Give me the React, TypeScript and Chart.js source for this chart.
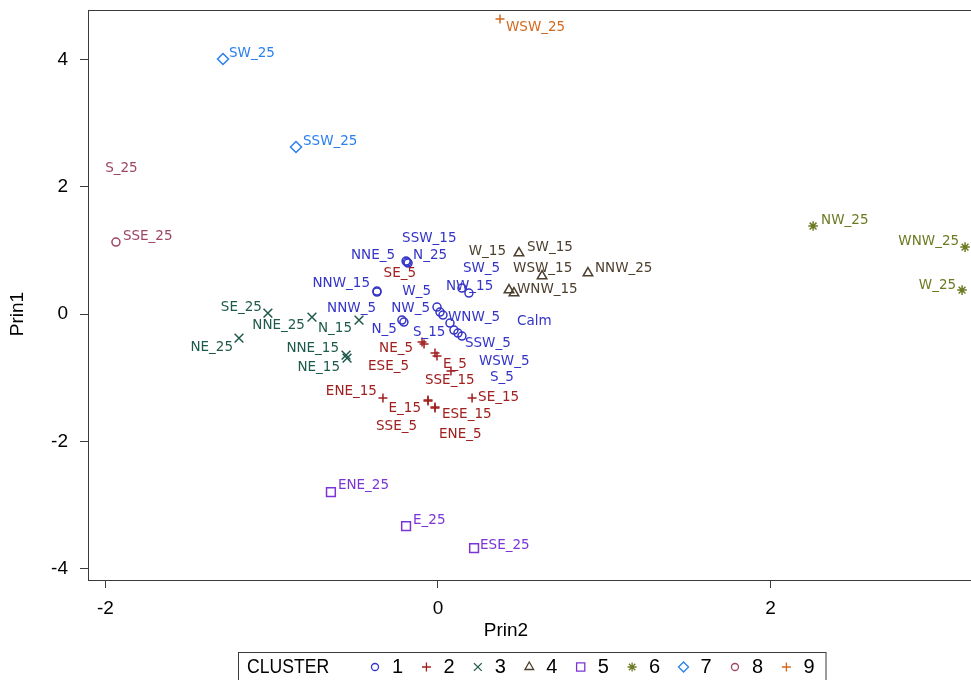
import React, { useEffect, useRef } from 'react';
import { Chart, registerables } from 'chart.js';
import { drawPoint } from 'chart.js/helpers';

Chart.register(...registerables);

// ---------- data ----------
const clusterIds = ['1', '2', '3', '4', '5', '6', '7', '8', '9'];

const c1Names = ['SSW_15', 'NNE_5', 'N_25', 'NNW_15', 'NNW_5', 'N_5', 'S_15', 'NW_5', 'W_5', 'WNW_5', 'Calm', 'SSW_5', 'WSW_5', 'S_5', 'SW_5', 'NW_15'];
const c1Prin2 = [-0.186, -0.192, -0.18, -0.367, -0.367, -0.217, -0.205, -0.006, 0.012, 0.03, 0.072, 0.096, 0.12, 0.144, 0.144, 0.186];
const c1Prin1 = [0.818, 0.833, 0.802, 0.362, 0.346, -0.094, -0.126, 0.11, 0.031, -0.016, -0.142, -0.252, -0.299, -0.346, 0.409, 0.33];

const c2Names = ['NE_5', 'SE_5', 'ESE_5', 'E_5', 'SSE_15', 'ENE_15', 'E_15', 'SSE_5', 'ESE_15', 'ENE_5', 'SE_15'];
const c2Prin2 = [-0.096, -0.084, -0.018, -0.006, 0.078, -0.331, -0.06, -0.06, -0.018, -0.018, 0.205];
const c2Prin1 = [-0.44, -0.472, -0.613, -0.66, -0.896, -1.321, -1.352, -1.368, -1.462, -1.478, -1.321];

const c3Names = ['SE_25', 'NNE_25', 'N_15', 'NE_25', 'NNE_15', 'NE_15'];
const c3Prin2 = [-1.023, -0.758, -0.475, -1.197, -0.553, -0.547];
const c3Prin1 = [0.016, -0.047, -0.094, -0.377, -0.645, -0.692];

const c4Names = ['SW_15', 'WSW_15', 'NNW_25', 'W_15', 'WNW_15'];
const c4Prin2 = [0.487, 0.626, 0.902, 0.427, 0.457];
const c4Prin1 = [0.959, 0.597, 0.645, 0.377, 0.33];

const c5Names = ['ENE_25', 'E_25', 'ESE_25'];
const c5Prin2 = [-0.644, -0.192, 0.217];
const c5Prin1 = [-2.799, -3.333, -3.679];

const c6Names = ['NW_25', 'WNW_25', 'W_25'];
const c6Prin2 = [2.256, 3.17, 3.152];
const c6Prin1 = [1.384, 1.053, 0.377];

const c7Names = ['SW_25', 'SSW_25'];
const c7Prin2 = [-1.293, -0.854];
const c7Prin1 = [4.009, 2.626];

const c8Names = ['S_25', 'SSE_25'];
const c8Prin2 = [-2.2, -1.937];
const c8Prin1 = [2.2, 1.132];

const c9Names = ['WSW_25'];
const c9Prin2 = [0.373];
const c9Prin1 = [4.638];

const xTicks = [-2, 0, 2];
const yTicks = [-4, -2, 0, 2, 4];

// ---------- styles ----------
const clusterColors = ['#3434c8', '#a01f1f', '#1e5a4b', '#4d3f2e', '#7b35d6', '#6b7b22', '#2a80f0', '#9c4566', '#d4691c'];
const clusterShapes = ['circle', 'cross', 'crossRot', 'triangle', 'rect', 'star', 'rectRot', 'circle', 'cross'];
const clusterRadius = [4, 4.5, 6.2, 5.5, 6.2, 4.8, 5.5, 4, 4.5];
const legendRadius = [3.5, 4.5, 5.5, 5, 5.8, 4.5, 5, 3.5, 4.5];

// label placement: [align, dx, dy] relative to the marker
const labelPlacement: Record<string, [string, number, number]> = {
  SSW_15: ['l', -5, -24], NNE_5: ['r', -11, -6], N_25: ['l', 5, -8], NNW_15: ['r', -7, -8],
  NNW_5: ['r', -1, 16], N_5: ['r', -5, 9], S_15: ['l', 9, 10], NW_5: ['r', -7, 1],
  W_5: ['r', -9, -21], WNW_5: ['l', 5, 2], Calm: ['l', 67, -2], SSW_5: ['l', 11, 13],
  WSW_5: ['l', 21, 28], S_5: ['l', 28, 41], SW_5: ['l', 1, -20], NW_15: ['l', -23, -7],
  NE_5: ['r', -9, 6], SE_5: ['r', -8, -71], ESE_5: ['r', -26, 13], E_5: ['l', 6, 8],
  SSE_15: ['l', -26, 9], ENE_15: ['r', -6, -7], E_15: ['r', -7, 8], SSE_5: ['r', -11, 25],
  ESE_15: ['l', 7, 7], ENE_5: ['l', 4, 26], SE_15: ['l', 6, -1],
  SE_25: ['r', -6, -6], NNE_25: ['r', -7, 8], N_15: ['r', -7, 8], NE_25: ['r', -6, 9],
  NNE_15: ['r', -7, -7], NE_15: ['r', -7, 9],
  SW_15: ['l', 8, -6], WSW_15: ['l', -29, -8], NNW_25: ['l', 7, -5], W_15: ['r', -3, -39], WNW_15: ['l', 3, -4],
  ENE_25: ['l', 7, -7], E_25: ['l', 7, -6], ESE_25: ['l', 6, -3],
  NW_25: ['l', 8, -6], WNW_25: ['r', -6, -6], W_25: ['r', -6, -5],
  SW_25: ['l', 6, -6], SSW_25: ['l', 7, -6],
  S_25: ['l', 33, -6], SSE_25: ['l', 7, -6],
  WSW_25: ['l', 6, 8],
};

const allNames = [c1Names, c2Names, c3Names, c4Names, c5Names, c6Names, c7Names, c8Names, c9Names];
const allPrin2 = [c1Prin2, c2Prin2, c3Prin2, c4Prin2, c5Prin2, c6Prin2, c7Prin2, c8Prin2, c9Prin2];
const allPrin1 = [c1Prin1, c2Prin1, c3Prin1, c4Prin1, c5Prin1, c6Prin1, c7Prin1, c8Prin1, c9Prin1];

const AXIS_FONT = "'Liberation Sans', sans-serif";
const LABEL_FONT = "13.5px 'DejaVu Sans', sans-serif";
const FRAME = '#3a3a3a';

const framePlugin = {
  id: 'frame',
  afterDraw(chart: any) {
    const { ctx, chartArea: a } = chart;
    ctx.save();
    ctx.strokeStyle = FRAME;
    ctx.lineWidth = 1;
    ctx.strokeRect(Math.round(a.left) + 0.5, Math.round(a.top) + 0.5, Math.round(a.right - a.left), Math.round(a.bottom - a.top));
    // axis titles
    ctx.fillStyle = '#000';
    ctx.font = `19px ${AXIS_FONT}`;
    ctx.textAlign = 'center';
    ctx.textBaseline = 'middle';
    ctx.fillText('Prin2', a.left + 418, a.bottom + 51);
    ctx.translate(18, a.top + 304);
    ctx.rotate(-Math.PI / 2);
    ctx.fillText('Prin1', 0, 0);
    ctx.restore();
  },
};

const pointLabelPlugin = {
  id: 'pointLabels',
  afterDatasetsDraw(chart: any) {
    const { ctx } = chart;
    ctx.save();
    ctx.font = LABEL_FONT;
    ctx.textBaseline = 'middle';
    chart.data.datasets.forEach((ds: any, di: number) => {
      const meta = chart.getDatasetMeta(di);
      ctx.fillStyle = ds.borderColor;
      meta.data.forEach((el: any, i: number) => {
        const name = ds.data[i].name;
        const [al, dx, dy] = labelPlacement[name] || ['l', 7, -6];
        ctx.textAlign = al === 'r' ? 'right' : 'left';
        ctx.fillText(name, el.x + dx, el.y + dy);
      });
    });
    ctx.restore();
  },
};

const legendPlugin = {
  id: 'clusterLegend',
  afterDraw(chart: any) {
    const { ctx, chartArea: a } = chart;
    const left = 238;
    const top = a.bottom + 72;
    const cy = top + 15;
    ctx.save();
    ctx.font = `20px ${AXIS_FONT}`;
    ctx.textBaseline = 'middle';
    ctx.textAlign = 'left';
    ctx.fillStyle = '#000';
    // slightly condensed rendering of the legend text
    ctx.save();
    ctx.translate(left + 9, cy);
    ctx.scale(0.88, 1.05);
    ctx.fillText('CLUSTER', 0, 0);
    ctx.restore();
    let x = left + 137;
    chart.data.datasets.forEach((ds: any, di: number) => {
      ctx.strokeStyle = ds.borderColor;
      ctx.fillStyle = 'rgba(0,0,0,0)';
      ctx.lineWidth = 1.3;
      drawPoint(ctx, { pointStyle: ds.pointStyle, radius: legendRadius[di], rotation: 0, borderWidth: 1.3 } as any, x, cy);
      ctx.fillStyle = '#000';
      const tx = x + 17;
      ctx.fillText(ds.label, tx, cy);
      const w = ctx.measureText(ds.label).width;
      x = tx + w + 23.3;
    });
    const right = x - 23.3 + 11;
    ctx.strokeStyle = FRAME;
    ctx.lineWidth = 1;
    ctx.strokeRect(left + 0.5, top + 0.5, right - left, 60);
    ctx.restore();
  },
};

export default function App() {
  const ref = useRef<HTMLCanvasElement | null>(null);

  useEffect(() => {
    if (!ref.current) return;
    const datasets = clusterIds.map((id, k) => ({
      label: id,
      data: allNames[k].map((n, i) => ({ x: allPrin2[k][i], y: allPrin1[k][i], name: n })),
      pointStyle: clusterShapes[k],
      pointRadius: clusterRadius[k],
      pointBorderWidth: 1.5,
      borderColor: clusterColors[k],
      backgroundColor: 'rgba(0,0,0,0)',
      pointBackgroundColor: 'rgba(0,0,0,0)',
      pointBorderColor: clusterColors[k],
      clip: 0,
    }));

    const chart = new Chart(ref.current, {
      type: 'scatter',
      data: { datasets } as any,
      options: {
        responsive: false,
        animation: false,
        devicePixelRatio: 1,
        layout: { padding: { top: 10, right: 10, left: 0, bottom: 0 } },
        plugins: { legend: { display: false }, tooltip: { enabled: false } },
        scales: {
          x: {
            type: 'linear',
            min: -2.105,
            max: 3.32,
            afterFit: (s: any) => { s.height = 100; s.paddingLeft = 0; s.paddingRight = 0; },
            afterBuildTicks: (s: any) => { s.ticks = xTicks.map((v) => ({ value: v })); },
            ticks: { font: { size: 19, family: AXIS_FONT }, color: '#000', padding: 9, maxRotation: 0 },
            grid: { drawOnChartArea: false, drawTicks: true, tickLength: 8, color: FRAME },
            border: { display: false },
          },
          y: {
            type: 'linear',
            min: -4.18,
            max: 4.78,
            afterFit: (s: any) => { s.width = 88; s.paddingTop = 0; s.paddingBottom = 0; },
            afterBuildTicks: (s: any) => { s.ticks = yTicks.map((v) => ({ value: v })); },
            ticks: { font: { size: 19, family: AXIS_FONT }, color: '#000', padding: 12 },
            grid: { drawOnChartArea: false, drawTicks: true, tickLength: 8, color: FRAME },
            border: { display: false },
          },
        },
      } as any,
      plugins: [pointLabelPlugin, framePlugin, legendPlugin],
    });
    return () => chart.destroy();
  }, []);

  return (
    <div style={{ position: 'fixed', left: 0, top: 0, width: 971, height: 680, overflow: 'hidden', background: '#fff' }}>
      <canvas ref={ref} width={1000} height={680} style={{ display: 'block' }} />
    </div>
  );
}
